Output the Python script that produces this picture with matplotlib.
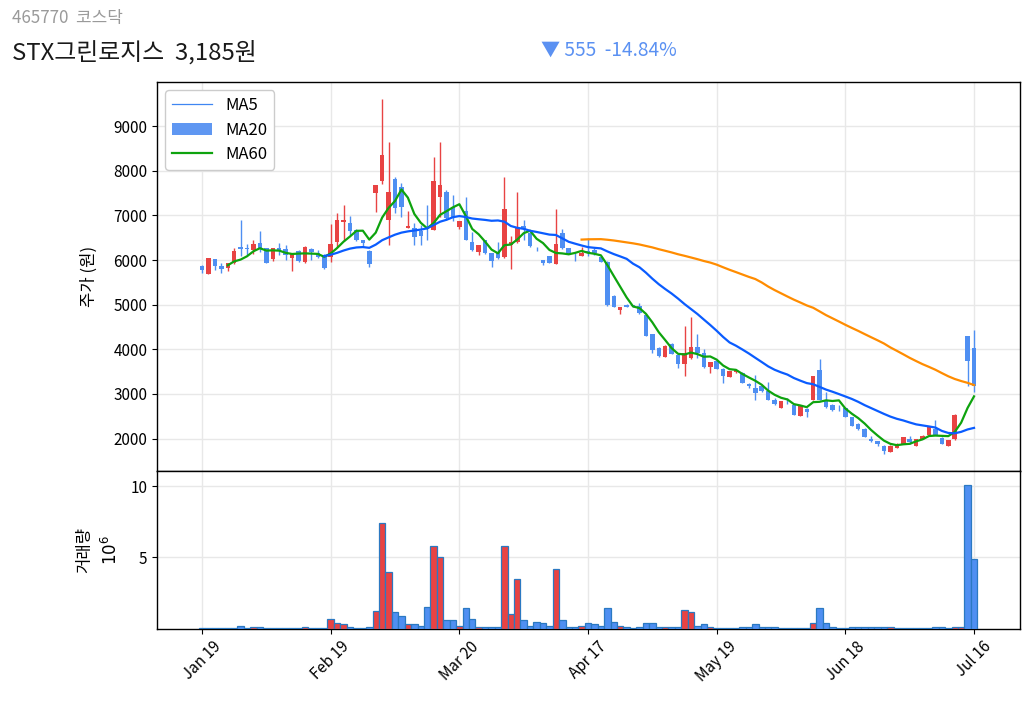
import numpy as np
import pandas as pd
import matplotlib
matplotlib.use("Agg")
import matplotlib.pyplot as plt
from matplotlib.lines import Line2D
from matplotlib.patches import Patch

plt.rcParams['font.family'] = ['Noto Sans CJK KR', 'DejaVu Sans']
plt.rcParams['axes.unicode_minus'] = False

tick_labels = ['Jan 19', 'Feb 19', 'Mar 20', 'Apr 17', 'May 19', 'Jun 18', 'Jul 16']

opens = [5870, 5690, 6020, 5870, 5820, 5930, 6300, 6270, 6230, 6390,
         6266, 6034, 6266, 6244, 6042, 6213, 5966, 6250, 6168, 6116,
         6064, 6400, 6850, 6840, 6670, 6452, 6210, 7510, 7780, 6900,
         7808, 7645, 6727, 6727, 6653, 6545, 6675, 7406, 7533, 7198,
         6750, 7090, 6415, 6190, 6452, 6154, 6190, 6064, 6340, 6393,
         6760, 6600, 6250, 5990, 6094, 5915, 6615, 6266, 6100, 6094,
         6200, 6228, 6064, 5966, 5198, 4886, 4997, 4997, 4975, 4774,
         4342, 4029, 3828, 4125, 3879, 3678, 3805, 4050, 3917, 3604,
         3729, 3559, 3380, 3483, 3470, 3230, 3134, 3186, 3058, 2872,
         2686, 2850, 2760, 2515, 2664, 2872, 3543, 2850, 2760, 2670,
         2686, 2485, 2335, 2216, 2000, 1940, 1843, 1694, 1792, 1888,
         2000, 1843, 1993, 2089, 2216, 2015, 1843, 1993, 3300, 4290,
         4036]
highs = [5880, 6050, 6030, 5944, 5930, 6270, 6900, 6360, 6450, 6660,
         6280, 6270, 6378, 6333, 6140, 6230, 6318, 6266, 6220, 6140,
         6810, 7050, 7230, 6990, 6700, 6460, 6220, 7690, 9600, 8650,
         7853, 7734, 7110, 6840, 6787, 7235, 8316, 8650, 7570, 7466,
         6885, 7420, 6637, 6345, 6460, 6160, 6415, 7853, 6530, 7533,
         6900, 6620, 6300, 6000, 6100, 7153, 6700, 6280, 6150, 6288,
         6500, 6260, 6080, 5980, 5210, 4950, 5020, 5000, 5040, 4790,
         4350, 4040, 4090, 4150, 3920, 4512, 4722, 4350, 4000, 3720,
         3740, 3570, 3520, 3530, 3480, 3240, 3432, 3200, 3260, 2900,
         2840, 2900, 2770, 2730, 2680, 3400, 3782, 3036, 2770, 2760,
         2700, 2490, 2350, 2230, 2050, 1950, 1850, 1850, 1900, 2040,
         2050, 2000, 2080, 2270, 2425, 2030, 1970, 2540, 3300, 4290,
         4440]
lows = [5700, 5680, 5780, 5710, 5765, 5920, 6080, 6120, 6140, 6190,
        5930, 5975, 6116, 6004, 5758, 5960, 5930, 6004, 6040, 5800,
        5950, 6300, 6420, 6560, 6420, 6300, 5850, 7085, 7700, 6340,
        7050, 6973, 6720, 6330, 6340, 6452, 6670, 6973, 6900, 6870,
        6700, 6450, 6200, 6116, 6140, 5855, 6030, 6050, 5800, 6380,
        6452, 6300, 6200, 5890, 5940, 5900, 6250, 6130, 5985, 6080,
        6080, 6120, 5950, 4980, 4940, 4796, 4940, 4940, 4800, 4290,
        3917, 3830, 3820, 3890, 3581, 3410, 3780, 3805, 3590, 3470,
        3550, 3246, 3370, 3460, 3240, 3140, 2872, 3040, 2860, 2750,
        2680, 2780, 2530, 2510, 2485, 2860, 2860, 2690, 2610, 2620,
        2480, 2280, 2200, 2030, 1930, 1830, 1642, 1690, 1780, 1880,
        1880, 1830, 1990, 2080, 2080, 1870, 1840, 1960, 3300, 3170,
        3050]
closes = [5770, 6040, 5870, 5800, 5930, 6210, 6240, 6245, 6360, 6270,
          5944, 6266, 6213, 6116, 6139, 5989, 6288, 6190, 6078, 5818,
          6362, 6900, 6900, 6660, 6450, 6378, 5900, 7682, 8350, 7530,
          7160, 7183, 6765, 6526, 6541, 6535, 7778, 7682, 6937, 6973,
          6885, 6460, 6228, 6340, 6154, 5989, 6042, 7138, 6415, 6715,
          6700, 6318, 6240, 5930, 5944, 6362, 6266, 6139, 6090, 6168,
          6150, 6154, 5966, 5000, 4946, 4946, 4950, 4960, 4812, 4304,
          3991, 3841, 4080, 3902, 3678, 3917, 4050, 3917, 3604, 3707,
          3559, 3394, 3506, 3528, 3246, 3170, 3022, 3058, 2872, 2780,
          2835, 2830, 2537, 2723, 2589, 3394, 2872, 2700, 2649, 2660,
          2485, 2290, 2205, 2038, 1940, 1866, 1716, 1843, 1888, 2038,
          1920, 1993, 2067, 2261, 2089, 1888, 1962, 2537, 3300, 3740,
          3185]
volume_m = [0.05, 0.05, 0.05, 0.05, 0.05, 0.05, 0.17, 0.03, 0.10, 0.10,
            0.05, 0.05, 0.05, 0.05, 0.05, 0.05, 0.10, 0.05, 0.05, 0.05,
            0.64, 0.40, 0.33, 0.10, 0.05, 0.05, 0.14, 1.21, 7.41, 4.00,
            1.14, 0.86, 0.33, 0.29, 0.21, 1.50, 5.80, 5.06, 0.57, 0.57,
            0.21, 1.43, 0.64, 0.10, 0.10, 0.14, 0.14, 5.80, 1.00, 3.45,
            0.57, 0.21, 0.43, 0.36, 0.21, 4.16, 0.57, 0.14, 0.14, 0.21,
            0.36, 0.29, 0.21, 1.45, 0.43, 0.21, 0.10, 0.03, 0.10, 0.36,
            0.36, 0.10, 0.14, 0.10, 0.10, 1.28, 1.14, 0.21, 0.29, 0.10,
            0.03, 0.03, 0.03, 0.03, 0.10, 0.10, 0.29, 0.10, 0.10, 0.10,
            0.05, 0.03, 0.03, 0.03, 0.03, 0.36, 1.45, 0.36, 0.10, 0.03,
            0.03, 0.10, 0.10, 0.10, 0.10, 0.10, 0.10, 0.10, 0.03, 0.03,
            0.03, 0.03, 0.03, 0.03, 0.14, 0.10, 0.03, 0.14, 0.14, 10.07,
            4.90]

UP = '#e84343'
DOWN = '#4f8ff2'

df = pd.DataFrame({'open': opens, 'high': highs, 'low': lows, 'close': closes, 'vol': volume_m})
x = np.arange(len(df))
up = df['close'] >= df['open']
colors = np.where(up, UP, DOWN)
ma5 = df['close'].rolling(5).mean()
ma20 = df['close'].rolling(20).mean()
ma60 = df['close'].rolling(60).mean()

fig = plt.figure(figsize=(10.32, 7.04), dpi=100)
gs = fig.add_gridspec(2, 1, height_ratios=[389, 158], hspace=0,
                      left=157 / 1032, right=1019.5 / 1032, top=1 - 82 / 704, bottom=1 - 628.5 / 704)
ax = fig.add_subplot(gs[0])
axv = fig.add_subplot(gs[1], sharex=ax)

for a in (ax, axv):
    a.grid(True, color='#e8e8e8', linewidth=1)
    a.set_axisbelow(True)
    for s in a.spines.values():
        s.set_color('black')
        s.set_linewidth(1)

# wicks
ax.vlines(x, df['low'], df['high'], colors=colors, linewidth=1, zorder=2)
# bodies
body_h = (df['close'] - df['open']).abs()
body_b = df[['open', 'close']].min(axis=1)
ax.bar(x, body_h, bottom=body_b, width=0.7, color=colors, linewidth=0, zorder=3)

ax.plot(x, ma5, color='#0ea30e', linewidth=1.6, zorder=4)
ax.plot(x, ma20, color='#0a5cff', linewidth=1.6, zorder=4)
ax.plot(x, ma60, color='#ff8c00', linewidth=1.6, zorder=4)

handles = [Line2D([], [], color='#3f86f2', linewidth=0.9),
           Patch(facecolor='#5f97f2', edgecolor='none'),
           Line2D([], [], color='#0ea30e', linewidth=1.6)]
ax.legend(handles, ['MA5', 'MA20', 'MA60'], loc='upper left', fontsize=12,
          frameon=True, edgecolor='#cccccc', framealpha=1, borderpad=0.4,
          handlelength=2.4, labelspacing=0.45)

ax.set_ylim(1280, 9990)
ax.set_yticks([2000, 3000, 4000, 5000, 6000, 7000, 8000, 9000])
ax.set_ylabel('주가 (원)', fontsize=12, labelpad=11)
ax.tick_params(axis='x', labelbottom=False, length=0)
ax.tick_params(axis='y', labelsize=11)

axv.bar(x, df['vol'], width=1.0, color=colors, edgecolor='#2b79c2', linewidth=0.9, zorder=3)
axv.set_ylim(0, 11.1)
axv.set_yticks([5, 10])
axv.set_ylabel('거래량\n$10^6$', fontsize=12, labelpad=7, linespacing=1.45)
axv.tick_params(axis='y', labelsize=11)
axv.set_xlim(-7, 127.07)
axv.set_xticks(np.arange(0, 121, 20))
axv.set_xticklabels(tick_labels, rotation=45, fontsize=11)

fig.text(12 / 1032, 1 - 18.5 / 704, '465770  코스닥', fontsize=12.2, color='#9a9a9a', va='center', ha='left')
fig.text(12 / 1032, 1 - 52 / 704, 'STX그린로지스  3,185원', fontsize=17.2, color='#1a1a1a', va='center', ha='left')
fig.text(541 / 1032, 1 - 50 / 704, '▼ 555  -14.84%', fontsize=13.8, color='#5b91f2', va='center', ha='left')

fig.savefig('out.png', dpi=100)
